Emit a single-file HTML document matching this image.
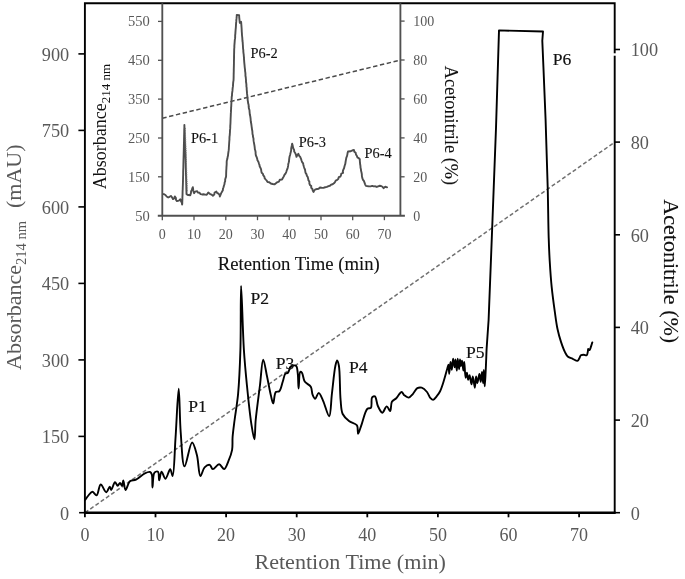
<!DOCTYPE html>
<html><head><meta charset="utf-8"><title>Chromatogram</title>
<style>html,body{margin:0;padding:0;background:#fff;}svg{display:block;filter:grayscale(1);}text{font-family:"Liberation Serif",serif;}</style></head><body>
<svg width="685" height="579" viewBox="0 0 685 579">
<rect width="685" height="579" fill="#fff"/>
<line x1="85" y1="512.7" x2="614.7" y2="142.2" stroke="#707070" stroke-width="1.5" stroke-dasharray="4 2.4"/>
<line x1="162.3" y1="118.2" x2="400.4" y2="60.1" stroke="#4a4a4a" stroke-width="1.5" stroke-dasharray="4.4 2.6"/>
<path d="M84.9,512.7 V3.2 H614.7 V512.7" fill="none" stroke="#000" stroke-width="1.9"/>
<line x1="83.9" y1="512.7" x2="615.7" y2="512.7" stroke="#000" stroke-width="2.5"/>
<line x1="79.10000000000001" y1="512.7" x2="84.9" y2="512.7" stroke="#000" stroke-width="1.6"/>
<line x1="614.7" y1="512.7" x2="620.0" y2="512.7" stroke="#000" stroke-width="1.6"/>
<text x="69.2" y="519.5" font-size="18.3" fill="#595959" text-anchor="end">0</text>
<line x1="78.4" y1="436.4" x2="84.9" y2="436.4" stroke="#000" stroke-width="1.6"/>
<text x="69.2" y="443.0" font-size="18.3" fill="#595959" text-anchor="end">150</text>
<line x1="78.4" y1="359.9" x2="84.9" y2="359.9" stroke="#000" stroke-width="1.6"/>
<text x="69.2" y="366.5" font-size="18.3" fill="#595959" text-anchor="end">300</text>
<line x1="78.4" y1="283.4" x2="84.9" y2="283.4" stroke="#000" stroke-width="1.6"/>
<text x="69.2" y="290.0" font-size="18.3" fill="#595959" text-anchor="end">450</text>
<line x1="78.4" y1="206.9" x2="84.9" y2="206.9" stroke="#000" stroke-width="1.6"/>
<text x="69.2" y="213.5" font-size="18.3" fill="#595959" text-anchor="end">600</text>
<line x1="78.4" y1="130.4" x2="84.9" y2="130.4" stroke="#000" stroke-width="1.6"/>
<text x="69.2" y="137.0" font-size="18.3" fill="#595959" text-anchor="end">750</text>
<line x1="78.4" y1="53.9" x2="84.9" y2="53.9" stroke="#000" stroke-width="1.6"/>
<text x="69.2" y="60.5" font-size="18.3" fill="#595959" text-anchor="end">900</text>
<text x="630.7" y="519.5" font-size="18.3" fill="#595959">0</text>
<line x1="614.7" y1="420.1" x2="620.0" y2="420.1" stroke="#000" stroke-width="1.6"/>
<text x="630.7" y="426.9" font-size="18.3" fill="#595959">20</text>
<line x1="614.7" y1="327.4" x2="620.0" y2="327.4" stroke="#000" stroke-width="1.6"/>
<text x="630.7" y="334.2" font-size="18.3" fill="#595959">40</text>
<line x1="614.7" y1="234.8" x2="620.0" y2="234.8" stroke="#000" stroke-width="1.6"/>
<text x="630.7" y="241.6" font-size="18.3" fill="#595959">60</text>
<line x1="614.7" y1="142.1" x2="620.0" y2="142.1" stroke="#000" stroke-width="1.6"/>
<text x="630.7" y="148.9" font-size="18.3" fill="#595959">80</text>
<line x1="614.7" y1="49.5" x2="620.0" y2="49.5" stroke="#000" stroke-width="1.6"/>
<text x="630.7" y="56.3" font-size="18.3" fill="#595959">100</text>
<rect x="612.7" y="53.3" width="4" height="2.4" fill="#fff"/>
<line x1="84.9" y1="512.7" x2="84.9" y2="517.3000000000001" stroke="#000" stroke-width="1.8"/>
<text x="84.9" y="541" font-size="18" fill="#595959" text-anchor="middle">0</text>
<line x1="155.5" y1="512.7" x2="155.5" y2="517.3000000000001" stroke="#000" stroke-width="1.8"/>
<text x="155.5" y="541" font-size="18" fill="#595959" text-anchor="middle">10</text>
<line x1="226.1" y1="512.7" x2="226.1" y2="517.3000000000001" stroke="#000" stroke-width="1.8"/>
<text x="226.1" y="541" font-size="18" fill="#595959" text-anchor="middle">20</text>
<line x1="296.7" y1="512.7" x2="296.7" y2="517.3000000000001" stroke="#000" stroke-width="1.8"/>
<text x="296.7" y="541" font-size="18" fill="#595959" text-anchor="middle">30</text>
<line x1="367.3" y1="512.7" x2="367.3" y2="517.3000000000001" stroke="#000" stroke-width="1.8"/>
<text x="367.3" y="541" font-size="18" fill="#595959" text-anchor="middle">40</text>
<line x1="437.9" y1="512.7" x2="437.9" y2="517.3000000000001" stroke="#000" stroke-width="1.8"/>
<text x="437.9" y="541" font-size="18" fill="#595959" text-anchor="middle">50</text>
<line x1="508.5" y1="512.7" x2="508.5" y2="517.3000000000001" stroke="#000" stroke-width="1.8"/>
<text x="508.5" y="541" font-size="18" fill="#595959" text-anchor="middle">60</text>
<line x1="579.1" y1="512.7" x2="579.1" y2="517.3000000000001" stroke="#000" stroke-width="1.8"/>
<text x="579.1" y="541" font-size="18" fill="#595959" text-anchor="middle">70</text>
<text x="254.4" y="569" font-size="22" fill="#595959" textLength="191.6" lengthAdjust="spacingAndGlyphs">Retention Time (min)</text>
<text transform="translate(21,370) rotate(-90)" font-size="22" fill="#595959">Absorbance<tspan font-size="14.5" dy="5">214 nm</tspan><tspan dy="-5" dx="13">(mAU)</tspan></text>
<text transform="translate(663.7,199.3) rotate(90)" font-size="22" fill="#111" stroke="#111" stroke-width="0.12" textLength="143.9" lengthAdjust="spacingAndGlyphs">Acetonitrile (%)</text>
<path d="M162.3,3.2 V215.7 M400.4,3.2 V215.7" fill="none" stroke="#505050" stroke-width="1.85"/>
<line x1="157.8" y1="215.7" x2="404.9" y2="215.7" stroke="#505050" stroke-width="1.85"/>
<text x="149.7" y="220.5" font-size="14.5" fill="#595959" text-anchor="end">50</text>
<line x1="158.0" y1="176.8" x2="162.3" y2="176.8" stroke="#505050" stroke-width="1.3"/>
<text x="149.7" y="181.7" font-size="14.5" fill="#595959" text-anchor="end">150</text>
<line x1="158.0" y1="138.0" x2="162.3" y2="138.0" stroke="#505050" stroke-width="1.3"/>
<text x="149.7" y="142.8" font-size="14.5" fill="#595959" text-anchor="end">250</text>
<line x1="158.0" y1="99.1" x2="162.3" y2="99.1" stroke="#505050" stroke-width="1.3"/>
<text x="149.7" y="103.9" font-size="14.5" fill="#595959" text-anchor="end">350</text>
<line x1="158.0" y1="60.3" x2="162.3" y2="60.3" stroke="#505050" stroke-width="1.3"/>
<text x="149.7" y="65.1" font-size="14.5" fill="#595959" text-anchor="end">450</text>
<line x1="158.0" y1="21.4" x2="162.3" y2="21.4" stroke="#505050" stroke-width="1.3"/>
<text x="149.7" y="26.2" font-size="14.5" fill="#595959" text-anchor="end">550</text>
<text x="413.3" y="220.5" font-size="14" fill="#595959">0</text>
<line x1="400.4" y1="176.8" x2="404.59999999999997" y2="176.8" stroke="#505050" stroke-width="1.3"/>
<text x="413.3" y="181.6" font-size="14" fill="#595959">20</text>
<line x1="400.4" y1="137.9" x2="404.59999999999997" y2="137.9" stroke="#505050" stroke-width="1.3"/>
<text x="413.3" y="142.7" font-size="14" fill="#595959">40</text>
<line x1="400.4" y1="98.9" x2="404.59999999999997" y2="98.9" stroke="#505050" stroke-width="1.3"/>
<text x="413.3" y="103.7" font-size="14" fill="#595959">60</text>
<line x1="400.4" y1="60.0" x2="404.59999999999997" y2="60.0" stroke="#505050" stroke-width="1.3"/>
<text x="413.3" y="64.8" font-size="14" fill="#595959">80</text>
<line x1="400.4" y1="21.1" x2="404.59999999999997" y2="21.1" stroke="#505050" stroke-width="1.3"/>
<text x="413.3" y="25.9" font-size="14" fill="#595959">100</text>
<line x1="162.3" y1="215.7" x2="162.3" y2="220.2" stroke="#505050" stroke-width="1.3"/>
<text x="162.3" y="238.5" font-size="14" fill="#595959" text-anchor="middle">0</text>
<line x1="194.0" y1="215.7" x2="194.0" y2="220.2" stroke="#505050" stroke-width="1.3"/>
<text x="194.0" y="238.5" font-size="14" fill="#595959" text-anchor="middle">10</text>
<line x1="225.8" y1="215.7" x2="225.8" y2="220.2" stroke="#505050" stroke-width="1.3"/>
<text x="225.8" y="238.5" font-size="14" fill="#595959" text-anchor="middle">20</text>
<line x1="257.5" y1="215.7" x2="257.5" y2="220.2" stroke="#505050" stroke-width="1.3"/>
<text x="257.5" y="238.5" font-size="14" fill="#595959" text-anchor="middle">30</text>
<line x1="289.2" y1="215.7" x2="289.2" y2="220.2" stroke="#505050" stroke-width="1.3"/>
<text x="289.2" y="238.5" font-size="14" fill="#595959" text-anchor="middle">40</text>
<line x1="321.0" y1="215.7" x2="321.0" y2="220.2" stroke="#505050" stroke-width="1.3"/>
<text x="321.0" y="238.5" font-size="14" fill="#595959" text-anchor="middle">50</text>
<line x1="352.7" y1="215.7" x2="352.7" y2="220.2" stroke="#505050" stroke-width="1.3"/>
<text x="352.7" y="238.5" font-size="14" fill="#595959" text-anchor="middle">60</text>
<line x1="384.4" y1="215.7" x2="384.4" y2="220.2" stroke="#505050" stroke-width="1.3"/>
<text x="384.4" y="238.5" font-size="14" fill="#595959" text-anchor="middle">70</text>
<text x="217.7" y="270" font-size="18" fill="#111" stroke="#111" stroke-width="0.1" textLength="162.1" lengthAdjust="spacingAndGlyphs">Retention Time (min)</text>
<text transform="translate(106.0,189.3) rotate(-90)" font-size="18" fill="#111">Absorbance<tspan font-size="13" dy="3.6">214 nm</tspan></text>
<text transform="translate(444.6,65.7) rotate(90)" font-size="18" fill="#111" stroke="#111" stroke-width="0.1" textLength="119.5" lengthAdjust="spacingAndGlyphs">Acetonitrile (%)</text>
<path fill="none" stroke="#4d4d4d" stroke-width="1.9" stroke-linejoin="round" stroke-linecap="round" d="M163.80,194.10 L165.46,194.98 L166.63,196.48 L168.21,197.46 L169.53,196.82 L170.90,195.95 L172.03,197.36 L172.93,199.09 L174.13,198.33 L174.86,196.46 L175.91,198.08 L175.91,199.79 L176.92,201.09 L178.87,200.62 L180.38,199.27 L180.91,201.10 L181.84,202.75 L182.11,204.63 L182.28,203.06 L182.30,201.53 L182.37,199.99 L182.41,198.45 L182.42,196.91 L182.52,195.38 L182.56,193.84 L182.59,192.30 L182.62,190.76 L182.73,189.23 L182.75,187.69 L182.82,186.15 L182.88,184.61 L182.92,183.08 L182.98,181.54 L182.99,180.00 L183.06,178.47 L183.07,176.94 L183.14,175.41 L183.18,173.88 L183.17,172.35 L183.21,170.82 L183.26,169.29 L183.34,167.76 L183.35,166.22 L183.40,164.69 L183.42,163.16 L183.47,161.63 L183.50,160.10 L183.54,158.57 L183.59,157.04 L183.63,155.51 L183.68,153.98 L183.71,152.45 L183.76,150.92 L183.80,149.39 L183.84,147.86 L183.87,146.33 L183.88,144.80 L183.95,143.27 L184.00,141.74 L184.03,140.21 L184.05,138.68 L184.10,137.14 L184.11,135.61 L184.19,134.08 L184.21,132.55 L184.23,131.02 L184.26,129.49 L184.34,127.96 L184.39,126.43 L184.38,124.90 L184.43,126.41 L184.51,127.92 L184.58,129.42 L184.62,130.93 L184.64,132.44 L184.68,133.95 L184.80,135.45 L184.81,136.96 L184.90,138.47 L184.90,139.98 L184.99,141.49 L184.99,143.00 L185.04,144.51 L185.13,146.01 L185.14,147.52 L185.25,149.03 L185.32,150.53 L185.33,152.04 L185.42,153.55 L185.46,155.06 L185.50,156.57 L185.54,158.08 L185.62,159.58 L185.68,161.09 L185.67,162.60 L185.75,164.10 L185.75,165.60 L185.79,167.10 L185.86,168.60 L185.89,170.10 L185.93,171.60 L185.96,173.10 L186.00,174.60 L186.04,176.10 L186.07,177.60 L186.09,179.10 L186.16,180.60 L186.20,182.10 L186.22,183.60 L186.29,185.10 L186.32,186.60 L186.32,188.10 L186.38,189.60 L186.42,191.10 L186.49,192.60 L186.50,194.10 L188.20,195.05 L190.29,195.20 L190.52,194.37 L190.98,192.93 L191.07,191.36 L191.88,190.03 L192.23,188.54 L192.81,187.14 L193.06,188.61 L193.21,190.17 L193.50,191.69 L194.10,193.16 L195.08,191.56 L197.15,191.10 L197.73,192.45 L199.57,192.78 L200.54,194.05 L202.03,194.45 L203.64,194.30 L205.18,194.59 L206.74,194.74 L208.26,192.60 L209.79,193.84 L211.49,194.54 L212.90,195.66 L214.26,194.61 L214.62,192.52 L216.38,191.56 L217.02,192.89 L218.45,193.68 L219.52,194.78 L219.87,196.47 L220.61,194.63 L221.19,193.14 L222.01,191.74 L222.84,190.35 L222.98,188.67 L223.55,187.26 L223.90,185.73 L224.47,184.26 L224.62,182.69 L225.16,181.21 L225.17,179.62 L225.59,178.11 L226.07,176.62 L226.12,175.02 L226.15,173.44 L226.21,171.86 L226.28,170.28 L226.40,168.70 L226.45,167.12 L226.59,165.54 L226.68,163.96 L226.68,162.38 L226.77,160.80 L227.30,159.07 L227.58,157.29 L228.01,155.55 L228.17,153.75 L228.44,151.97 L228.67,150.46 L228.84,148.92 L228.87,147.37 L228.98,145.83 L229.09,144.29 L229.19,142.75 L229.29,141.21 L229.46,139.67 L229.45,138.13 L229.53,136.58 L229.76,135.05 L229.85,133.51 L229.97,131.97 L229.99,130.42 L230.17,128.89 L230.26,127.35 L230.26,125.80 L230.40,124.28 L230.48,122.77 L230.53,121.25 L230.58,119.73 L230.63,118.21 L230.71,116.69 L230.77,115.18 L230.82,113.66 L230.94,112.14 L230.98,110.62 L231.11,109.11 L231.10,107.59 L231.26,106.07 L231.31,104.55 L231.40,103.04 L231.47,101.52 L231.54,100.00 L231.67,98.49 L231.69,96.96 L232.00,95.46 L232.03,93.94 L232.21,92.42 L232.44,90.92 L232.56,89.40 L232.68,87.88 L232.95,86.38 L233.02,84.86 L233.12,83.34 L233.25,81.82 L233.53,80.32 L233.59,78.80 L233.64,77.23 L233.66,75.66 L233.68,74.09 L233.73,72.53 L233.77,70.96 L233.77,69.39 L233.83,67.82 L233.87,66.25 L233.90,64.68 L233.93,63.12 L233.93,61.55 L233.98,59.98 L234.03,58.41 L234.02,56.84 L234.06,55.27 L234.09,53.71 L234.14,52.14 L234.16,50.57 L234.20,49.00 L234.36,47.49 L234.34,45.97 L234.47,44.45 L234.59,42.94 L234.70,41.43 L234.81,39.91 L235.07,38.41 L235.17,36.90 L235.15,35.37 L235.33,33.87 L235.42,32.35 L235.53,30.84 L235.65,29.32 L235.81,27.82 L235.91,26.30 L236.00,24.67 L236.10,23.04 L236.26,21.41 L236.35,19.78 L236.55,18.16 L236.71,16.53 L236.78,14.90 L239.13,15.26 L239.25,17.54 L239.44,19.29 L239.62,21.05 L239.81,22.81 L241.10,21.76 L241.26,23.54 L241.38,25.18 L241.51,26.81 L241.62,28.45 L241.70,30.09 L241.77,31.73 L241.91,33.36 L241.97,35.00 L242.14,36.50 L242.31,38.01 L242.38,39.51 L242.48,41.02 L242.72,42.52 L242.79,44.03 L242.91,45.53 L242.96,47.04 L243.07,48.55 L243.31,50.05 L243.34,51.56 L243.49,53.06 L243.72,54.56 L243.81,56.07 L244.00,57.57 L244.00,59.08 L244.15,60.58 L244.24,62.09 L244.39,63.60 L244.54,65.10 L244.66,66.60 L244.82,68.12 L245.05,69.63 L245.09,71.16 L245.34,72.66 L245.45,74.18 L245.46,75.71 L245.75,77.22 L245.87,78.74 L246.01,80.26 L245.99,81.79 L246.26,83.29 L246.43,84.81 L246.40,86.34 L246.68,87.85 L246.68,89.38 L246.85,90.89 L246.95,92.42 L247.06,93.94 L247.28,95.45 L247.37,96.97 L247.66,98.47 L247.65,100.00 L247.96,101.67 L248.16,103.35 L248.64,104.98 L248.68,106.68 L248.88,108.36 L249.45,109.98 L249.56,111.49 L249.69,113.00 L249.82,114.51 L250.21,115.99 L250.43,117.49 L250.62,118.99 L250.71,120.50 L250.88,122.01 L251.20,123.50 L251.41,124.99 L251.61,126.50 L251.83,127.99 L252.02,129.50 L252.33,130.98 L252.43,132.52 L252.51,134.06 L252.93,135.56 L253.05,137.09 L253.48,138.58 L253.54,140.13 L253.75,141.65 L254.01,143.17 L254.29,144.68 L254.54,146.20 L254.72,147.73 L254.87,149.26 L255.35,150.74 L255.60,152.26 L255.62,153.81 L255.92,155.50 L256.64,157.05 L257.16,158.66 L257.47,160.34 L258.37,161.76 L258.87,163.32 L259.46,164.84 L259.74,166.47 L260.48,167.94 L261.09,169.46 L261.31,171.11 L261.68,172.72 L262.95,173.86 L263.32,175.45 L264.35,176.67 L264.69,178.27 L265.71,179.50 L266.76,180.71 L267.57,182.05 L269.28,182.22 L270.81,183.47 L272.61,184.00 L274.46,184.37 L275.65,183.48 L277.08,182.27 L278.94,181.60 L279.82,179.75 L282.00,179.50 L282.98,177.78 L283.82,176.38 L284.44,174.85 L285.50,173.55 L286.22,172.08 L286.72,170.49 L287.38,168.99 L287.78,167.46 L288.12,165.92 L288.23,164.33 L288.65,162.80 L289.03,161.26 L289.12,159.66 L289.31,158.09 L289.60,156.54 L290.09,155.02 L290.41,153.40 L290.86,151.81 L291.14,150.19 L291.20,148.52 L291.51,146.90 L291.87,145.29 L292.16,143.67 L292.60,145.29 L292.94,146.87 L293.34,148.44 L294.12,149.90 L294.19,151.56 L295.32,153.20 L296.00,155.01 L296.51,156.88 L297.30,155.14 L298.36,153.84 L299.22,155.89 L300.37,157.24 L301.02,158.83 L301.53,160.47 L302.15,162.07 L303.13,163.41 L303.41,164.99 L303.84,166.53 L304.31,168.05 L304.99,169.51 L305.24,171.10 L305.50,172.70 L306.43,174.10 L306.87,175.66 L307.72,177.08 L308.16,178.64 L308.43,180.27 L309.38,181.65 L309.37,183.37 L309.91,184.91 L311.26,186.02 L311.20,187.80 L312.41,188.94 L312.76,190.52 L313.47,191.92 L314.34,190.36 L315.58,189.32 L317.01,188.96 L318.62,188.71 L319.96,187.53 L321.70,187.74 L323.42,187.84 L325.13,187.24 L326.86,186.85 L328.54,186.06 L329.90,185.72 L331.08,184.68 L332.67,184.23 L333.94,183.31 L334.97,182.07 L335.69,180.59 L337.24,179.94 L338.33,178.83 L338.74,177.23 L340.37,176.56 L341.01,175.16 L341.32,173.53 L343.06,172.93 L342.82,171.07 L343.36,169.64 L344.03,168.24 L344.39,166.75 L344.80,165.28 L345.29,163.83 L345.52,162.26 L345.79,160.71 L346.06,159.15 L346.35,157.61 L346.99,156.13 L347.34,154.60 L347.58,153.04 L348.01,151.52 L350.50,151.30 L352.13,150.50 L353.94,149.95 L354.34,151.69 L355.68,152.83 L355.95,154.45 L356.81,155.81 L357.31,157.31 L358.76,158.10 L359.78,159.25 L359.83,161.03 L359.99,162.66 L360.13,164.29 L360.44,165.91 L360.51,167.55 L360.91,169.16 L361.06,170.79 L361.51,172.53 L361.84,174.29 L361.90,176.10 L362.27,177.86 L362.83,179.57 L363.88,180.95 L364.53,182.60 L365.09,184.31 L365.89,185.88 L368.36,186.30 L370.59,186.33 L372.21,185.88 L373.72,186.41 L375.30,186.30 L376.80,186.94 L379.44,185.79 L381.05,186.02 L382.48,186.78 L383.63,188.16 L385.22,186.72 L387.11,187.31"/>
<path fill="none" stroke="#000" stroke-width="1.9" stroke-linejoin="round" stroke-linecap="round" d="M85.30,499.70 C86.20,498.47 86.94,497.23 88.00,496.00 C89.22,494.59 90.84,491.87 92.30,491.80 C93.71,491.74 95.37,495.63 96.60,495.30 C98.38,494.82 98.97,484.73 100.70,484.50 C102.27,484.29 104.69,492.26 106.30,492.20 C107.64,492.15 108.94,486.53 109.80,486.60 C110.44,486.65 110.59,489.98 111.20,490.00 C112.13,490.03 113.74,482.33 115.00,482.20 C115.90,482.11 116.82,485.68 117.70,485.70 C118.49,485.72 119.27,482.98 120.00,483.00 C120.71,483.02 121.48,485.81 122.00,485.70 C122.67,485.57 122.82,480.40 123.30,480.40 C123.95,480.40 124.38,489.86 125.50,490.00 C126.62,490.14 127.94,482.98 130.00,481.30 C131.64,479.96 133.90,480.60 136.00,479.60 C138.76,478.28 142.15,474.64 144.80,473.40 C146.67,472.52 148.80,471.60 150.00,472.00 C150.89,472.30 151.36,473.12 151.80,474.30 C152.74,476.82 152.08,487.48 152.50,487.50 C152.95,487.52 152.68,474.64 154.50,472.60 C155.39,471.60 157.19,471.16 158.00,471.70 C159.26,472.55 158.62,480.36 159.20,480.40 C159.78,480.44 160.40,471.84 161.50,471.70 C162.54,471.56 164.15,478.74 165.50,478.70 C167.05,478.65 168.96,469.13 170.20,469.20 C171.22,469.26 171.91,476.09 172.60,476.00 C174.17,475.79 174.55,451.81 175.50,438.40 C176.59,422.99 177.82,388.69 178.70,388.70 C179.53,388.71 179.63,418.59 180.70,432.20 C181.65,444.30 182.32,466.18 184.50,466.40 C186.36,466.58 189.77,442.57 192.10,442.50 C193.81,442.45 195.60,450.22 196.90,455.00 C198.54,461.05 198.69,475.85 200.40,476.10 C201.55,476.27 202.74,469.27 204.60,467.40 C206.03,465.96 208.32,464.56 209.70,464.90 C211.03,465.22 211.47,468.91 212.80,469.10 C214.44,469.33 217.15,464.20 219.10,464.30 C220.93,464.40 222.72,469.34 224.20,469.10 C225.88,468.82 227.16,464.13 228.40,461.20 C229.84,457.80 231.39,453.76 232.10,449.80 C232.83,445.71 232.24,441.56 232.60,437.00 C233.01,431.73 233.81,426.27 234.60,420.00 C235.58,412.20 237.18,403.67 238.10,393.80 C239.28,381.09 239.89,365.99 240.40,350.00 C241.01,330.69 240.52,286.01 241.10,286.00 C241.68,285.99 242.73,331.87 243.90,350.00 C244.77,363.42 245.71,373.06 246.90,385.00 C248.15,397.56 249.75,413.60 251.30,423.60 C252.30,430.02 253.67,439.35 254.40,439.30 C255.20,439.25 255.00,427.37 255.70,420.00 C256.65,410.05 258.66,395.73 260.00,385.00 C261.14,375.86 261.87,359.67 263.20,359.60 C264.29,359.55 265.76,370.53 267.00,376.30 C268.33,382.47 269.67,390.52 270.90,395.50 C271.70,398.73 272.45,403.42 273.20,403.40 C274.09,403.37 274.14,393.66 275.80,392.00 C276.72,391.08 278.31,392.08 279.30,391.20 C280.98,389.72 281.74,384.56 282.80,381.50 C283.75,378.76 284.13,374.98 285.40,373.70 C286.13,372.96 287.25,373.50 288.00,372.80 C289.18,371.71 289.23,367.73 290.70,366.60 C292.01,365.59 294.83,365.01 296.00,365.80 C297.36,366.71 297.28,369.98 297.70,372.80 C298.32,376.97 298.18,388.49 298.60,388.50 C299.04,388.51 298.91,372.64 300.30,371.90 C300.77,371.65 301.48,372.17 302.00,372.80 C303.13,374.16 303.15,379.13 304.70,381.50 C306.16,383.73 309.48,384.60 310.80,386.80 C312.12,389.00 311.70,392.57 312.60,394.70 C313.29,396.33 314.28,398.72 315.20,398.70 C316.29,398.68 317.49,392.88 318.70,392.90 C320.10,392.92 321.62,397.67 323.10,400.80 C325.11,405.03 327.75,416.39 329.20,416.20 C330.89,415.98 330.93,401.68 331.90,393.80 C332.98,384.99 334.16,371.42 335.40,365.80 C335.95,363.30 336.52,360.50 337.10,360.50 C337.68,360.50 338.41,363.21 338.90,365.80 C340.12,372.19 339.72,391.12 340.60,400.00 C341.17,405.71 340.97,410.33 342.70,414.00 C344.11,416.99 346.60,419.10 349.00,421.00 C351.35,422.85 355.39,423.13 356.90,425.30 C358.36,427.41 357.39,433.62 358.10,433.70 C358.83,433.78 360.07,428.58 361.30,425.30 C363.02,420.70 364.99,410.88 367.40,408.70 C368.49,407.71 370.08,408.74 370.90,407.80 C372.31,406.18 370.80,398.88 372.10,397.30 C372.78,396.47 374.10,395.99 374.90,396.40 C376.37,397.16 376.56,403.17 377.90,406.00 C379.10,408.53 380.82,412.68 382.30,412.70 C383.75,412.72 385.30,406.43 386.70,406.40 C387.92,406.38 389.35,411.20 390.20,411.00 C391.29,410.74 390.58,403.90 391.90,401.70 C392.92,400.00 394.83,399.62 396.30,398.20 C398.07,396.49 400.15,391.98 401.60,392.00 C402.63,392.01 403.11,394.30 404.20,395.20 C405.40,396.20 407.18,397.75 408.60,397.60 C410.13,397.44 411.61,395.27 413.00,393.80 C414.53,392.18 415.63,389.14 417.30,388.20 C418.62,387.45 420.25,387.28 421.70,387.70 C423.50,388.22 425.54,390.27 427.00,392.00 C428.49,393.76 429.25,396.86 430.50,398.20 C431.33,399.08 432.21,399.99 433.10,399.90 C434.23,399.78 435.49,397.74 436.60,396.40 C437.84,394.89 439.05,393.28 440.10,391.20 C441.45,388.53 442.49,384.94 443.60,381.50 C444.83,377.69 446.19,372.39 447.10,369.30 C447.66,367.40 448.16,364.66 448.50,364.70 C448.97,364.75 448.90,373.90 449.20,373.90 C449.54,373.91 450.01,362.01 450.50,362.00 C450.90,361.99 451.40,369.91 451.80,369.90 C452.28,369.89 452.57,358.82 453.10,358.80 C453.56,358.78 454.30,367.32 454.70,367.30 C455.09,367.28 455.19,359.40 455.50,359.40 C455.87,359.40 456.44,370.61 456.80,370.60 C457.17,370.59 457.30,358.81 457.70,358.80 C458.08,358.79 458.71,369.31 459.10,369.30 C459.47,369.29 459.64,359.41 460.00,359.40 C460.29,359.39 460.63,365.99 461.00,366.00 C461.34,366.01 461.75,360.69 462.10,360.70 C462.57,360.72 463.02,370.60 463.40,370.60 C463.75,370.60 463.99,362.00 464.30,362.00 C464.72,362.00 464.97,377.75 465.60,377.80 C465.97,377.83 466.50,372.59 466.90,372.60 C467.37,372.62 467.69,379.77 468.20,379.80 C468.62,379.82 469.14,375.18 469.60,375.20 C470.24,375.23 470.95,384.41 471.50,384.40 C472.01,384.39 472.31,376.50 472.80,376.50 C473.39,376.50 474.25,387.72 474.80,387.70 C475.35,387.68 475.59,376.52 476.10,376.50 C476.49,376.48 476.91,383.10 477.40,383.10 C477.98,383.11 478.84,373.89 479.40,373.90 C479.92,373.91 480.29,381.81 480.70,381.80 C481.16,381.79 481.61,371.89 482.00,371.90 C482.41,371.91 482.81,383.11 483.10,383.10 C483.42,383.09 483.55,369.90 483.80,369.90 C484.08,369.90 484.39,386.40 484.70,386.40 C484.99,386.40 485.32,377.82 485.60,372.60 C485.97,365.76 486.27,356.80 486.60,348.90 L488.60,320.00 L491.80,238.00 L496.00,128.00 L499.00,30.40 L543.00,31.50 L542.30,40.70 L542.30,40.70 C543.40,67.13 544.68,94.64 545.60,120.00 C546.45,143.38 547.17,166.54 547.70,187.40 C548.16,205.47 548.27,224.47 548.70,238.00 C548.99,247.07 549.23,252.84 549.70,260.70 C550.21,269.20 550.83,278.55 551.70,287.20 C552.54,295.54 553.75,304.25 554.80,311.70 C555.69,317.97 556.37,323.68 557.50,329.00 C558.49,333.64 559.67,337.85 561.00,341.90 C562.23,345.61 563.71,349.70 565.10,352.40 C566.05,354.24 566.72,355.73 568.00,356.80 C569.26,357.85 571.14,358.12 572.70,358.80 C574.27,359.48 576.29,361.17 577.40,360.90 C578.21,360.71 578.56,359.62 579.10,358.80 C579.75,357.81 580.02,355.97 580.90,355.30 C581.66,354.72 582.83,354.70 583.80,354.70 C584.77,354.70 586.02,355.71 586.70,355.30 C587.52,354.81 587.65,352.38 587.90,351.20 C588.08,350.33 587.87,349.03 588.20,348.90 C588.49,348.78 589.20,350.10 589.60,350.00 C590.13,349.86 590.40,348.19 590.80,347.10 C591.30,345.73 591.80,343.97 592.30,342.40"/>
<line x1="185.3" y1="128" x2="187.4" y2="192" stroke="#777" stroke-width="1" stroke-dasharray="1.2 1"/>
<text x="188.3" y="412" font-size="17.6" fill="#111" stroke="#111" stroke-width="0.18">P1</text>
<text x="250.4" y="303.7" font-size="17.6" fill="#111" stroke="#111" stroke-width="0.18">P2</text>
<text x="275.8" y="368.5" font-size="17.6" fill="#111" stroke="#111" stroke-width="0.18">P3</text>
<text x="349" y="372.8" font-size="17.6" fill="#111" stroke="#111" stroke-width="0.18">P4</text>
<text x="466.0" y="358.2" font-size="17.6" fill="#111" stroke="#111" stroke-width="0.18">P5</text>
<text x="552.8" y="65.2" font-size="17.6" fill="#111" stroke="#111" stroke-width="0.18">P6</text>
<text x="190.9" y="142.8" font-size="14.4" fill="#111" stroke="#111" stroke-width="0.1">P6-1</text>
<text x="250.5" y="58.3" font-size="14.4" fill="#111" stroke="#111" stroke-width="0.1">P6-2</text>
<text x="298.8" y="147.2" font-size="14.4" fill="#111" stroke="#111" stroke-width="0.1">P6-3</text>
<text x="364.5" y="158" font-size="14.4" fill="#111" stroke="#111" stroke-width="0.1">P6-4</text>
</svg></body></html>
